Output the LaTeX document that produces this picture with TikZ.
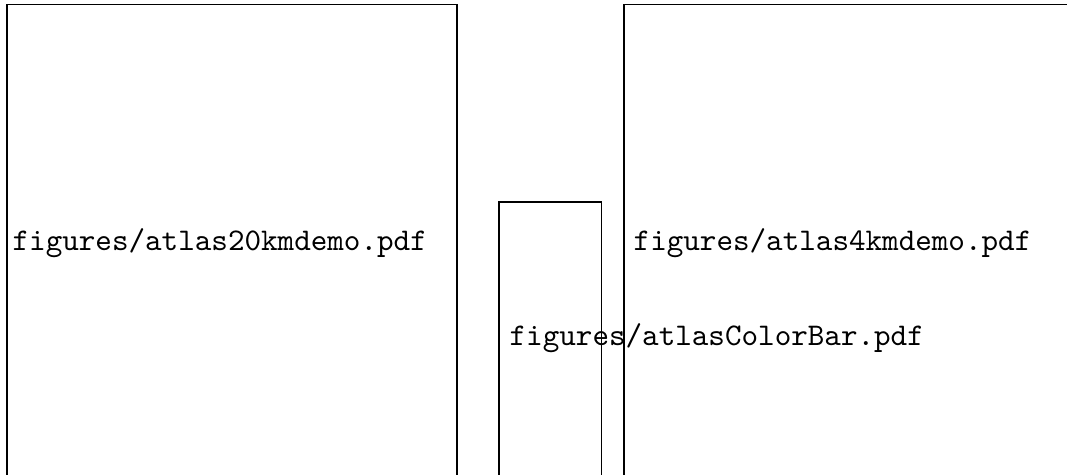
\documentclass[tikz,border=0pt]{standalone}
\tikzset{
  fname/.style={anchor=base west,inner sep=0pt,font=\ttfamily}
}
\begin{document}
\begin{tikzpicture}[x=1pt,y=1pt]
    \useasboundingbox (0,0) rectangle (338.1,150.5);
    %% placeholder frames
    \draw (2.2,0) -- (2.2,149.1) -- (144.8,149.1) -- (144.8,0);
    \draw (158.1,0) -- (158.1,86.5) -- (190.7,86.5) -- (190.7,0);
    \draw (197.7,0) -- (197.7,149.1) -- (338.1,149.1);
    %% file names
    \node[fname] (map20) at (3.8,71.0) {figures/atlas20kmdemo.pdf};
    \node[fname] (map4) at (200.6,71.0) {figures/atlas4kmdemo.pdf};
    \node[fname] (cbar) at (161.3,40.9) {figures/atlasColorBar.pdf};
\end{tikzpicture}
\end{document}
